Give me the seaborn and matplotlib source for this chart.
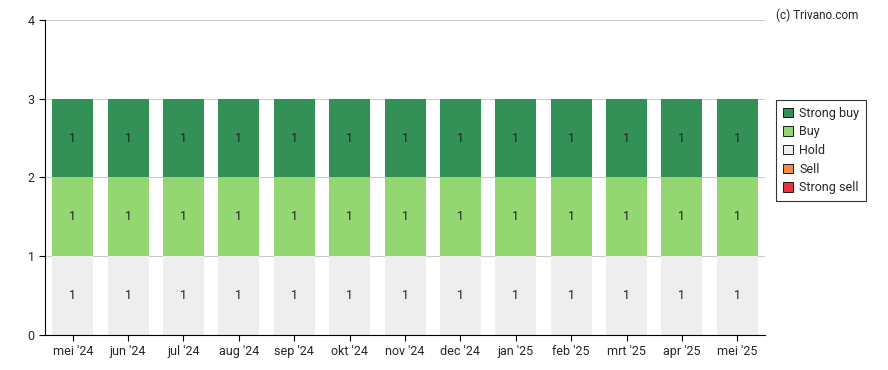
import matplotlib
matplotlib.use("Agg")
import matplotlib.pyplot as plt
import seaborn as sns
import pandas as pd
from matplotlib.patches import Patch

# maanden en aantallen per advies
maanden = ["mei '24", "jun '24", "jul '24", "aug '24", "sep '24", "okt '24", "nov '24",
           "dec '24", "jan '25", "feb '25", "mrt '25", "apr '25", "mei '25"]
strong_buy = [1] * 13
buy = [1] * 13
hold = [1] * 13
sell = [0] * 13
strong_sell = [0] * 13

namen = ["Strong buy", "Buy", "Hold", "Sell", "Strong sell"]
kleuren = ["#339157", "#93d672", "#eeeeee", "#f58a4b", "#e8333f"]

df = pd.DataFrame({"maand": maanden, "Strong buy": strong_buy, "Buy": buy,
                   "Hold": hold, "Sell": sell, "Strong sell": strong_sell})

sns.set_style("white")
plt.rcParams["font.family"] = ["Roboto", "DejaVu Sans"]

fig = plt.figure(figsize=(8.88, 3.7), dpi=100)
ax = fig.add_axes([0.0507, 0.0946, 0.8108, 0.8514])

# gestapeld: cumulatief van onder naar boven, hoogste eerst tekenen
volgorde = ["Strong sell", "Sell", "Hold", "Buy", "Strong buy"]
cum = {}
totaal = [0] * 13
for n in volgorde:
    totaal = [a + b for a, b in zip(totaal, df[n])]
    cum[n] = (list(totaal), [t - v for t, v in zip(totaal, df[n])])

for n in reversed(volgorde):
    top, _ = cum[n]
    if sum(df[n]) == 0:
        continue
    sns.barplot(x=df["maand"], y=top, color=kleuren[namen.index(n)], width=0.74,
                saturation=1, linewidth=0, ax=ax, zorder=2)

for n in volgorde:
    top, bodem = cum[n]
    for i, v in enumerate(df[n]):
        if v > 0:
            ax.text(i, (top[i] + bodem[i]) / 2, str(v), ha="center", va="center",
                    fontsize=9, color="#222222", zorder=3)

ax.set_ylim(0, 4)
ax.set_xlim(-0.5, 12.5)
ax.set_yticks([0, 1, 2, 3, 4])
ax.yaxis.grid(True, color="#cccccc", linewidth=0.8, zorder=0)
ax.set_axisbelow(True)
ax.set_xlabel("")
ax.set_ylabel("")
for s in ["top", "right"]:
    ax.spines[s].set_visible(False)
ax.spines["left"].set_color("black")
ax.spines["bottom"].set_color("black")
ax.tick_params(axis="both", labelsize=9, length=4, color="black", direction="out")
ax.tick_params(axis="x", bottom=True)
ax.tick_params(axis="y", left=True)

handles = [Patch(facecolor=c, edgecolor="black", linewidth=0.6, label=n)
           for n, c in zip(namen, kleuren)]
leg = fig.legend(handles=handles, loc="upper left", bbox_to_anchor=(0.874, 0.73),
                 borderaxespad=0, fontsize=9, frameon=True, fancybox=False,
                 handlelength=0.8, handleheight=0.8, handletextpad=0.5,
                 borderpad=0.55, labelspacing=0.45)
leg.get_frame().set_edgecolor("black")
leg.get_frame().set_linewidth(0.8)

fig.text(0.967, 0.978, "(c) Trivano.com", ha="right", va="top", fontsize=8.5)

fig.savefig("out.png", dpi=100)
